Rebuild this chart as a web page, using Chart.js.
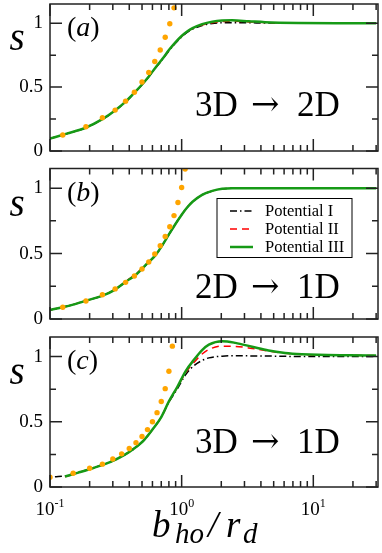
<!DOCTYPE html>
<html>
<head>
<meta charset="utf-8">
<script src="https://cdn.jsdelivr.net/npm/chart.js@4.4.0/dist/chart.umd.min.js"></script>
<style>
  body { margin: 0; background: #fff; }
  canvas { position: absolute; left: 0; }
</style>
</head>
<body>
<canvas id="chartA" width="382" height="160" style="top:0px"></canvas>
<canvas id="chartB" width="382" height="168" style="top:160px"></canvas>
<canvas id="chartC" width="382" height="225" style="top:328px"></canvas>
<script>
// ---- data ----
const seriesLabels = ['Potential I', 'Potential II', 'Potential III']

// (a) 3D -> 2D
const xA = [0.1, 0.134, 0.186, 0.25, 0.31, 0.379, 0.438, 0.5, 0.565, 0.636, 0.72, 0.8, 0.9, 1.0, 1.1, 1.21, 1.43, 1.71, 2.03, 2.42, 3.24, 4.3, 7.7, 15, 30]
const a1 = [0.097, 0.135, 0.181, 0.248, 0.313, 0.388, 0.453, 0.517, 0.582, 0.652, 0.72, 0.783, 0.845, 0.893, 0.928, 0.953, 0.982, 0.997, 1.003, 1.004, 1.003, 1.001, 1.0, 1.0, 1.0]
const a2 = [0.097, 0.135, 0.182, 0.249, 0.314, 0.389, 0.455, 0.519, 0.584, 0.654, 0.723, 0.787, 0.849, 0.897, 0.932, 0.958, 0.986, 1.004, 1.012, 1.015, 1.01, 1.005, 1.001, 1.0, 1.0]
const a3 = [0.097, 0.136, 0.182, 0.249, 0.315, 0.39, 0.456, 0.52, 0.585, 0.656, 0.725, 0.79, 0.852, 0.9, 0.935, 0.962, 0.992, 1.011, 1.02, 1.022, 1.015, 1.008, 1.002, 1.0, 1.0]
const dotXA = [0.125, 0.1875, 0.25, 0.3125, 0.375, 0.4375, 0.5, 0.5625, 0.625, 0.6875, 0.75, 0.8125, 0.875]
const dotA = [0.125, 0.19, 0.26, 0.32, 0.39, 0.46, 0.54, 0.615, 0.70, 0.79, 0.89, 0.995, 1.12]

// (b) 2D -> 1D
const xB = [0.1, 0.125, 0.15, 0.178, 0.253, 0.31, 0.379, 0.45, 0.536, 0.636, 0.72, 0.8, 0.9, 1.0, 1.1, 1.21, 1.43, 1.71, 2.03, 2.42, 4, 10, 30]
const b1 = [0.069, 0.09, 0.11, 0.133, 0.18, 0.223, 0.286, 0.336, 0.413, 0.489, 0.569, 0.645, 0.727, 0.796, 0.851, 0.895, 0.948, 0.978, 0.994, 0.999, 1.0, 1.0, 1.0]
const b2 = [0.069, 0.09, 0.11, 0.133, 0.181, 0.225, 0.29, 0.345, 0.418, 0.49, 0.57, 0.646, 0.728, 0.797, 0.852, 0.896, 0.949, 0.979, 0.995, 1.0, 1.0, 1.0, 1.0]
const b3 = [0.069, 0.09, 0.11, 0.133, 0.18, 0.223, 0.287, 0.338, 0.415, 0.49, 0.57, 0.646, 0.728, 0.797, 0.852, 0.896, 0.949, 0.979, 0.995, 1.0, 1.0, 1.0, 1.0]
const dotXB = [0.125, 0.1875, 0.25, 0.3125, 0.375, 0.4375, 0.5, 0.5625, 0.625, 0.6875, 0.75, 0.8125, 0.875, 0.9375, 1.0, 1.0625]
const dotB = [0.09, 0.138, 0.185, 0.23, 0.28, 0.328, 0.382, 0.436, 0.497, 0.56, 0.63, 0.705, 0.79, 0.89, 1.005, 1.146]

// (c) 3D -> 1D
const xC1 = [0.109, 0.13, 0.164, 0.218, 0.292, 0.368, 0.438, 0.52, 0.6, 0.7, 0.8, 0.93, 1.07, 1.24, 1.43, 1.61, 2.03, 2.56, 3.43, 4.57, 6.1, 8.2, 10.9, 19, 30]
const c1 = [0.078, 0.085, 0.112, 0.15, 0.195, 0.245, 0.295, 0.36, 0.44, 0.536, 0.65, 0.755, 0.86, 0.93, 0.97, 0.99, 1.003, 1.006, 1.005, 1.004, 1.002, 1.0, 1.0, 1.0, 1.0]
const xC = [0.13, 0.164, 0.218, 0.292, 0.368, 0.438, 0.52, 0.6, 0.7, 0.8, 0.93, 1.07, 1.24, 1.43, 1.61, 2.03, 2.56, 3.43, 4.57, 6.1, 8.2, 10.9, 19, 30]
const c2 = [0.078, 0.11, 0.15, 0.196, 0.247, 0.298, 0.362, 0.44, 0.535, 0.654, 0.765, 0.875, 0.955, 1.02, 1.055, 1.08, 1.078, 1.062, 1.042, 1.025, 1.016, 1.012, 1.01, 1.008]
const c3 = [0.08, 0.11, 0.149, 0.195, 0.246, 0.297, 0.362, 0.44, 0.536, 0.656, 0.77, 0.887, 0.975, 1.05, 1.092, 1.118, 1.105, 1.075, 1.046, 1.028, 1.018, 1.013, 1.01, 1.008]
const dotXC = [0.1, 0.15, 0.2, 0.25, 0.3, 0.35, 0.4, 0.45, 0.5, 0.55, 0.6, 0.65, 0.7, 0.75, 0.8, 0.85]
const dotC = [0.075, 0.105, 0.144, 0.175, 0.215, 0.254, 0.295, 0.34, 0.387, 0.44, 0.5, 0.57, 0.656, 0.754, 0.887, 1.08]

// axes
const xMin = 0.1
const xMax = 31
const yMax = 1.15
const yTicks = [0, 0.5, 1]
const yMinor = [0.25, 0.75]
const xMajor = [0.1, 1, 10]
const xMinor = [0.2, 0.3, 0.4, 0.5, 0.6, 0.7, 0.8, 0.9, 2, 3, 4, 5, 6, 7, 8, 9, 20, 30]

const serif = 'Liberation Serif'
const pts = (xs, ys) => xs.map((v, i) => ({x: v, y: ys[i]}))

const drawPieces = (ctx, left, pieces) => {
    let cx = left
    pieces.forEach((p) => {
        ctx.font = p.font
        const at = p.x !== undefined ? p.x : cx
        ctx.fillText(p.text, at, p.y)
        cx = at + ctx.measureText(p.text).width
    })
    return cx
}

const decor = {
    id: 'decor',
    afterDraw(chart, args, opts) {
        const ctx = chart.ctx
        const ca = chart.chartArea
        const x = chart.scales.x
        const y = chart.scales.y
        ctx.save()
        ctx.strokeStyle = '#222'
        ctx.lineWidth = 1.5
        // inward ticks on all four sides
        ctx.beginPath()
        xMajor.concat(xMinor).forEach((v) => {
            const len = xMajor.includes(v) ? 12 : 6
            const px = x.getPixelForValue(v)
            ctx.moveTo(px, ca.bottom); ctx.lineTo(px, ca.bottom - len)
            ctx.moveTo(px, ca.top); ctx.lineTo(px, ca.top + len)
        })
        yTicks.concat(yMinor).forEach((v) => {
            const len = yTicks.includes(v) ? 12 : 6
            const py = y.getPixelForValue(v)
            ctx.moveTo(ca.left, py); ctx.lineTo(ca.left + len, py)
            ctx.moveTo(ca.right, py); ctx.lineTo(ca.right - len, py)
        })
        ctx.stroke()
        ctx.strokeRect(ca.left, ca.top, ca.right - ca.left, ca.bottom - ca.top)

        ctx.fillStyle = '#000'
        ctx.textBaseline = 'alphabetic'
        // y axis name
        ctx.textAlign = 'center'
        ctx.font = 'italic 39px ' + serif
        ctx.fillText('s', 17, y.getPixelForValue(0.79))
        ctx.textAlign = 'left'
        // panel tag
        const ty = ca.top + 32
        drawPieces(ctx, ca.left + 17, [
            {text: '(', font: '28px ' + serif, y: ty},
            {text: opts.tag, font: 'italic 28px ' + serif, y: ty},
            {text: ')', font: '28px ' + serif, y: ty},
        ])
        // dimension note
        const ny = y.getPixelForValue(opts.noteY)
        const parts = opts.note.split(' ')
        drawPieces(ctx, ca.left + 145, [
            {text: parts[0], font: '35px ' + serif, y: ny},
            {text: parts[1], font: '34px "DejaVu Serif"', y: ny - 1, x: ca.left + 201},
            {text: parts[2], font: '35px ' + serif, y: ny, x: ca.left + 247},
        ])

        if (opts.legend) {
            const bx = ca.left + 167
            const by = ca.top + 30
            ctx.fillStyle = '#fff'
            ctx.fillRect(bx, by, 135, 59)
            ctx.strokeStyle = '#000'
            ctx.lineWidth = 1
            ctx.strokeRect(bx, by, 135, 59)
            const items = chart.data.datasets.filter((d) => d.label)
            seriesLabels.forEach((name, i) => {
                const d = items.find((s) => s.label === name)
                const ry = by + 12.5 + i * 18
                ctx.strokeStyle = d.borderColor
                ctx.lineWidth = d.borderWidth
                ctx.setLineDash(d.borderDash || [])
                ctx.beginPath()
                ctx.moveTo(bx + 13, ry); ctx.lineTo(bx + 36, ry)
                ctx.stroke()
                ctx.setLineDash([])
                ctx.fillStyle = '#000'
                ctx.font = '16.5px ' + serif
                ctx.textBaseline = 'middle'
                ctx.fillText(d.label, bx + 48, ry + 1)
                ctx.textBaseline = 'alphabetic'
            })
        }

        if (opts.xLabels) {
            ctx.fillStyle = '#000'
            xMajor.forEach((v) => {
                const exp = String(Math.round(Math.log10(v)))
                ctx.font = '19px ' + serif
                const wb = ctx.measureText('10').width
                ctx.font = '12px ' + serif
                const we = ctx.measureText(exp).width
                const left = x.getPixelForValue(v) - (wb + we) / 2
                drawPieces(ctx, left, [
                    {text: '10', font: '19px ' + serif, y: ca.bottom + 28},
                    {text: exp, font: '12px ' + serif, y: ca.bottom + 20},
                ])
            })
            const by = ca.bottom + 50
            drawPieces(ctx, 152, [
                {text: 'b', font: 'italic 37px ' + serif, y: by},
                {text: 'ho', font: 'italic 29px ' + serif, y: by + 6, x: 175},
                {text: '/', font: 'italic 37px ' + serif, y: by, x: 208},
                {text: 'r', font: 'italic 37px ' + serif, y: by, x: 226},
                {text: 'd', font: 'italic 29px ' + serif, y: by + 6, x: 243},
            ])
        }
        ctx.restore()
    }
}

const lineSet = (label, data, color, width, dash) => ({
    label: label,
    data: data,
    showLine: true,
    borderColor: color,
    borderWidth: width,
    borderDash: dash,
    pointRadius: 0,
    cubicInterpolationMode: 'monotone',
    fill: false,
})

const makePanel = (id, lines, dots, pad, decorOpts) => {
    const ctx = document.getElementById(id).getContext('2d')
    return new Chart(ctx, {
        type: 'scatter',
        data: {
            datasets: [
                {
                    data: dots,
                    pointRadius: 2.7,
                    pointBackgroundColor: '#ffa500',
                    pointBorderWidth: 0,
                    showLine: false,
                },
                lineSet(seriesLabels[2], lines[2], '#169a16', 2.5, []),
                lineSet(seriesLabels[1], lines[1], '#ff0000', 1.5, [7, 5]),
                lineSet(seriesLabels[0], lines[0], '#000000', 1.5, [7, 3, 1.5, 3]),
            ]
        },
        options: {
            responsive: false,
            animation: false,
            events: [],
            layout: {padding: pad},
            plugins: {
                legend: {display: false},
                tooltip: {enabled: false},
                decor: decorOpts,
            },
            scales: {
                x: {type: 'logarithmic', min: xMin, max: xMax, display: false},
                y: {
                    min: 0,
                    max: yMax,
                    afterFit: (s) => {
                        s.width = 50
                        s.paddingTop = 0
                        s.paddingBottom = 0
                    },
                    afterBuildTicks: (s) => { s.ticks = yTicks.map((v) => ({value: v})) },
                    grid: {display: false, drawTicks: false},
                    border: {display: false},
                    ticks: {
                        font: {family: serif, size: 19},
                        color: '#000',
                        padding: 7,
                        callback: (v) => String(v),
                    },
                },
            },
        },
        plugins: [decor],
    })
}

makePanel('chartA', [pts(xA, a1), pts(xA, a2), pts(xA, a3)], pts(dotXA, dotA),
    {top: 1.5, bottom: 9, left: 0, right: 2},
    {tag: 'a', note: '3D → 2D', noteY: 0.277, legend: false, xLabels: false})

makePanel('chartB', [pts(xB, b1), pts(xB, b2), pts(xB, b3)], pts(dotXB, dotB),
    {top: 8.5, bottom: 9, left: 0, right: 2},
    {tag: 'b', note: '2D → 1D', noteY: 0.16, legend: true, xLabels: false})

makePanel('chartC', [pts(xC1, c1), pts(xC, c2), pts(xC, c3)], pts(dotXC, dotC),
    {top: 9, bottom: 66, left: 0, right: 2},
    {tag: 'c', note: '3D → 1D', noteY: 0.26, legend: false, xLabels: true})
</script>
</body>
</html>
